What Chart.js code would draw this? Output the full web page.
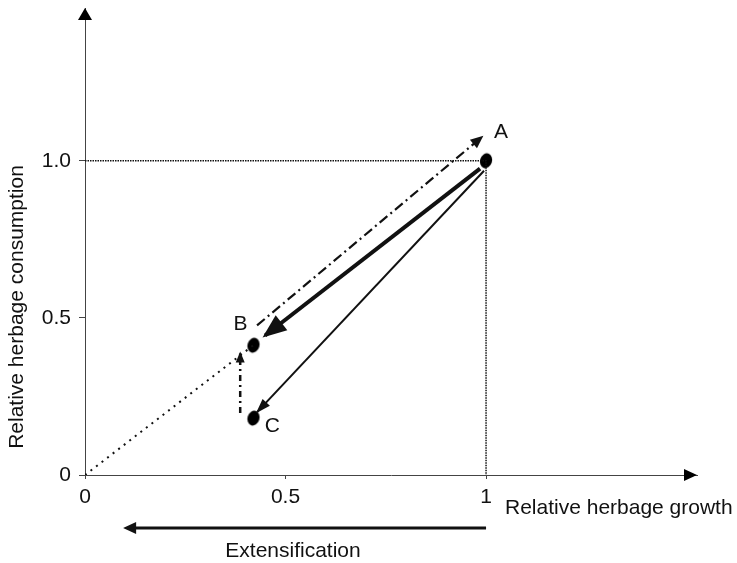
<!DOCTYPE html>
<html>
<head>
<meta charset="utf-8">
<script src="https://cdn.jsdelivr.net/npm/chart.js@4/dist/chart.umd.min.js"></script>
<style>
  body { margin: 0; background: #fff; }
  canvas { display: block; }
</style>
</head>
<body>
<canvas id="chart" width="737" height="563"></canvas>
<script>
// values (relative units)
const pointNames = ["A", "B", "C"];
const pointX = [1.0, 0.42, 0.42];
const pointY = [1.0, 0.413, 0.181];

// A -> B (thick), A -> C (thin)
const abX = [0.985, 0.449];
const abY = [0.975, 0.444];
const acX = [0.995, 0.429];
const acY = [0.968, 0.2];
// dash-dot return path B -> beyond A, and C -> B rise
const backX = [0.429, 0.99];
const backY = [0.476, 1.076];
const riseX = [0.387, 0.387];
const riseY = [0.197, 0.387];
// dotted 1:1 line and the reference lines at 1
const diagX = [0, 0.42];
const diagY = [0, 0.413];
const refX = [0, 1, 1];
const refY = [1, 1, 0];
// extensification arrow under the x axis (from 1 back towards 0)
const extX = [1.0, 0.095];

const xTicks = [0, 0.5, 1];
const xTickLabels = ["0", "0.5", "1"];
const yTicks = [0, 0.5, 1];
const yTickLabels = ["0", "0.5", "1.0"];

const FONT = "Arial, 'Liberation Sans', sans-serif";
const INK = "#111";
const AXIS = "#444";

const pts = (xs, ys) => xs.map((x, i) => ({ x: x, y: ys[i] }));

// oval dot used for A, B, C
function ovalDot() {
  const c = document.createElement("canvas");
  c.width = 18; c.height = 20;
  const g = c.getContext("2d");
  g.fillStyle = "#000";
  g.beginPath();
  g.ellipse(9, 10, 6, 7.5, 0.3, 0, Math.PI * 2);
  g.fill();
  return c;
}

function lineSet(data, width, dash, arrow) {
  return {
    data: data,
    showLine: true,
    borderColor: INK,
    borderWidth: width,
    borderDash: dash,
    pointRadius: 0,
    pointHoverRadius: 0,
    fill: false,
    arrow: arrow
  };
}

function head(ctx, x1, y1, x2, y2, len, wid, ext) {
  const a = Math.atan2(y2 - y1, x2 - x1);
  const tx = x2 + Math.cos(a) * ext, ty = y2 + Math.sin(a) * ext;
  ctx.save();
  ctx.translate(tx, ty);
  ctx.rotate(a);
  ctx.beginPath();
  ctx.moveTo(0, 0);
  ctx.lineTo(-len, -wid / 2);
  ctx.lineTo(-len, wid / 2);
  ctx.closePath();
  ctx.fill();
  ctx.restore();
}

const decor = {
  id: "decor",
  afterDatasetsDraw(chart) {
    const ctx = chart.ctx;
    const xs = chart.scales.x, ys = chart.scales.y;
    const area = chart.chartArea;
    ctx.save();
    ctx.fillStyle = INK;

    // arrowheads at the end of the arrow datasets
    chart.data.datasets.forEach((ds, i) => {
      if (!ds.arrow) return;
      const d = chart.getDatasetMeta(i).data;
      const p1 = d[d.length - 2], p2 = d[d.length - 1];
      head(ctx, p1.x, p1.y, p2.x, p2.y, ds.arrow[0], ds.arrow[1], ds.borderWidth * 0.8);
    });

    // axis arrowheads
    ctx.fillStyle = "#000";
    head(ctx, area.left, area.bottom, area.left, area.top, 12, 14, 0);
    head(ctx, area.left, area.bottom, area.right, area.bottom, 13, 12, 0);

    // point labels
    ctx.fillStyle = INK;
    ctx.font = "21px " + FONT;
    ctx.textAlign = "center";
    ctx.textBaseline = "middle";
    const off = [[15, -29], [-13, -21], [19, 8]];
    pointNames.forEach((n, i) => {
      ctx.fillText(n, xs.getPixelForValue(pointX[i]) + off[i][0],
                      ys.getPixelForValue(pointY[i]) + off[i][1]);
    });

    // axis titles
    ctx.textAlign = "left";
    ctx.fillText("Relative herbage growth", 505, 508);
    ctx.save();
    ctx.translate(17, 307);
    ctx.rotate(-Math.PI / 2);
    ctx.textAlign = "center";
    ctx.fillText("Relative herbage consumption", 0, 0);
    ctx.restore();

    // extensification arrow
    const ey = area.bottom + 53;
    const ex0 = xs.getPixelForValue(extX[0]), ex1 = xs.getPixelForValue(extX[1]);
    ctx.strokeStyle = INK;
    ctx.lineWidth = 3;
    ctx.beginPath();
    ctx.moveTo(ex0, ey);
    ctx.lineTo(ex1 + 10, ey);
    ctx.stroke();
    head(ctx, ex0, ey, ex1, ey, 13, 12, 0);
    ctx.textAlign = "center";
    ctx.fillText("Extensification", 293, ey + 23);
    ctx.restore();
  }
};

new Chart(document.getElementById("chart"), {
  type: "scatter",
  data: {
    datasets: [
      lineSet(pts(refX, refY), 1.5, [1.5, 1], null),
      lineSet(pts(diagX, diagY), 2, [2, 5], null),
      lineSet(pts(backX, backY), 2.2, [10, 4, 2, 4], [13, 11]),
      lineSet(pts(riseX, riseY), 2.5, [6, 4, 2, 4], [11, 9]),
      lineSet(pts(abX, abY), 4, [], [24, 19]),
      lineSet(pts(acX, acY), 2, [], [15, 10]),
      {
        data: pts(pointX, pointY),
        pointStyle: ovalDot(),
        pointRadius: 7,
        pointHoverRadius: 7,
        showLine: false
      }
    ]
  },
  options: {
    responsive: false,
    animation: false,
    events: [],
    layout: { padding: { left: 0, top: 7, right: 40, bottom: 0 } },
    plugins: { legend: { display: false }, tooltip: { enabled: false } },
    scales: {
      x: {
        type: "linear",
        min: 0,
        max: 1.526,
        afterFit: (s) => { s.height = 88; s.paddingLeft = 0; s.paddingRight = 0; },
        afterBuildTicks: (s) => { s.ticks = xTicks.map(v => ({ value: v })); },
        grid: { display: true, drawOnChartArea: false, drawTicks: true, tickLength: 4, color: AXIS },
        border: { display: true, color: AXIS, width: 1 },
        ticks: {
          color: INK,
          font: { family: FONT, size: 21 },
          padding: 6,
          maxRotation: 0,
          callback: (v) => xTickLabels[xTicks.indexOf(v)]
        }
      },
      y: {
        type: "linear",
        min: 0,
        max: 1.486,
        afterFit: (s) => { s.width = 85; s.paddingTop = 0; s.paddingBottom = 0; },
        afterBuildTicks: (s) => { s.ticks = yTicks.map(v => ({ value: v })); },
        grid: { display: true, drawOnChartArea: false, drawTicks: true, tickLength: 6, color: AXIS },
        border: { display: true, color: AXIS, width: 1 },
        ticks: {
          color: INK,
          font: { family: FONT, size: 21 },
          padding: 8,
          callback: (v) => yTickLabels[yTicks.indexOf(v)]
        }
      }
    }
  },
  plugins: [decor]
});
</script>
</body>
</html>
